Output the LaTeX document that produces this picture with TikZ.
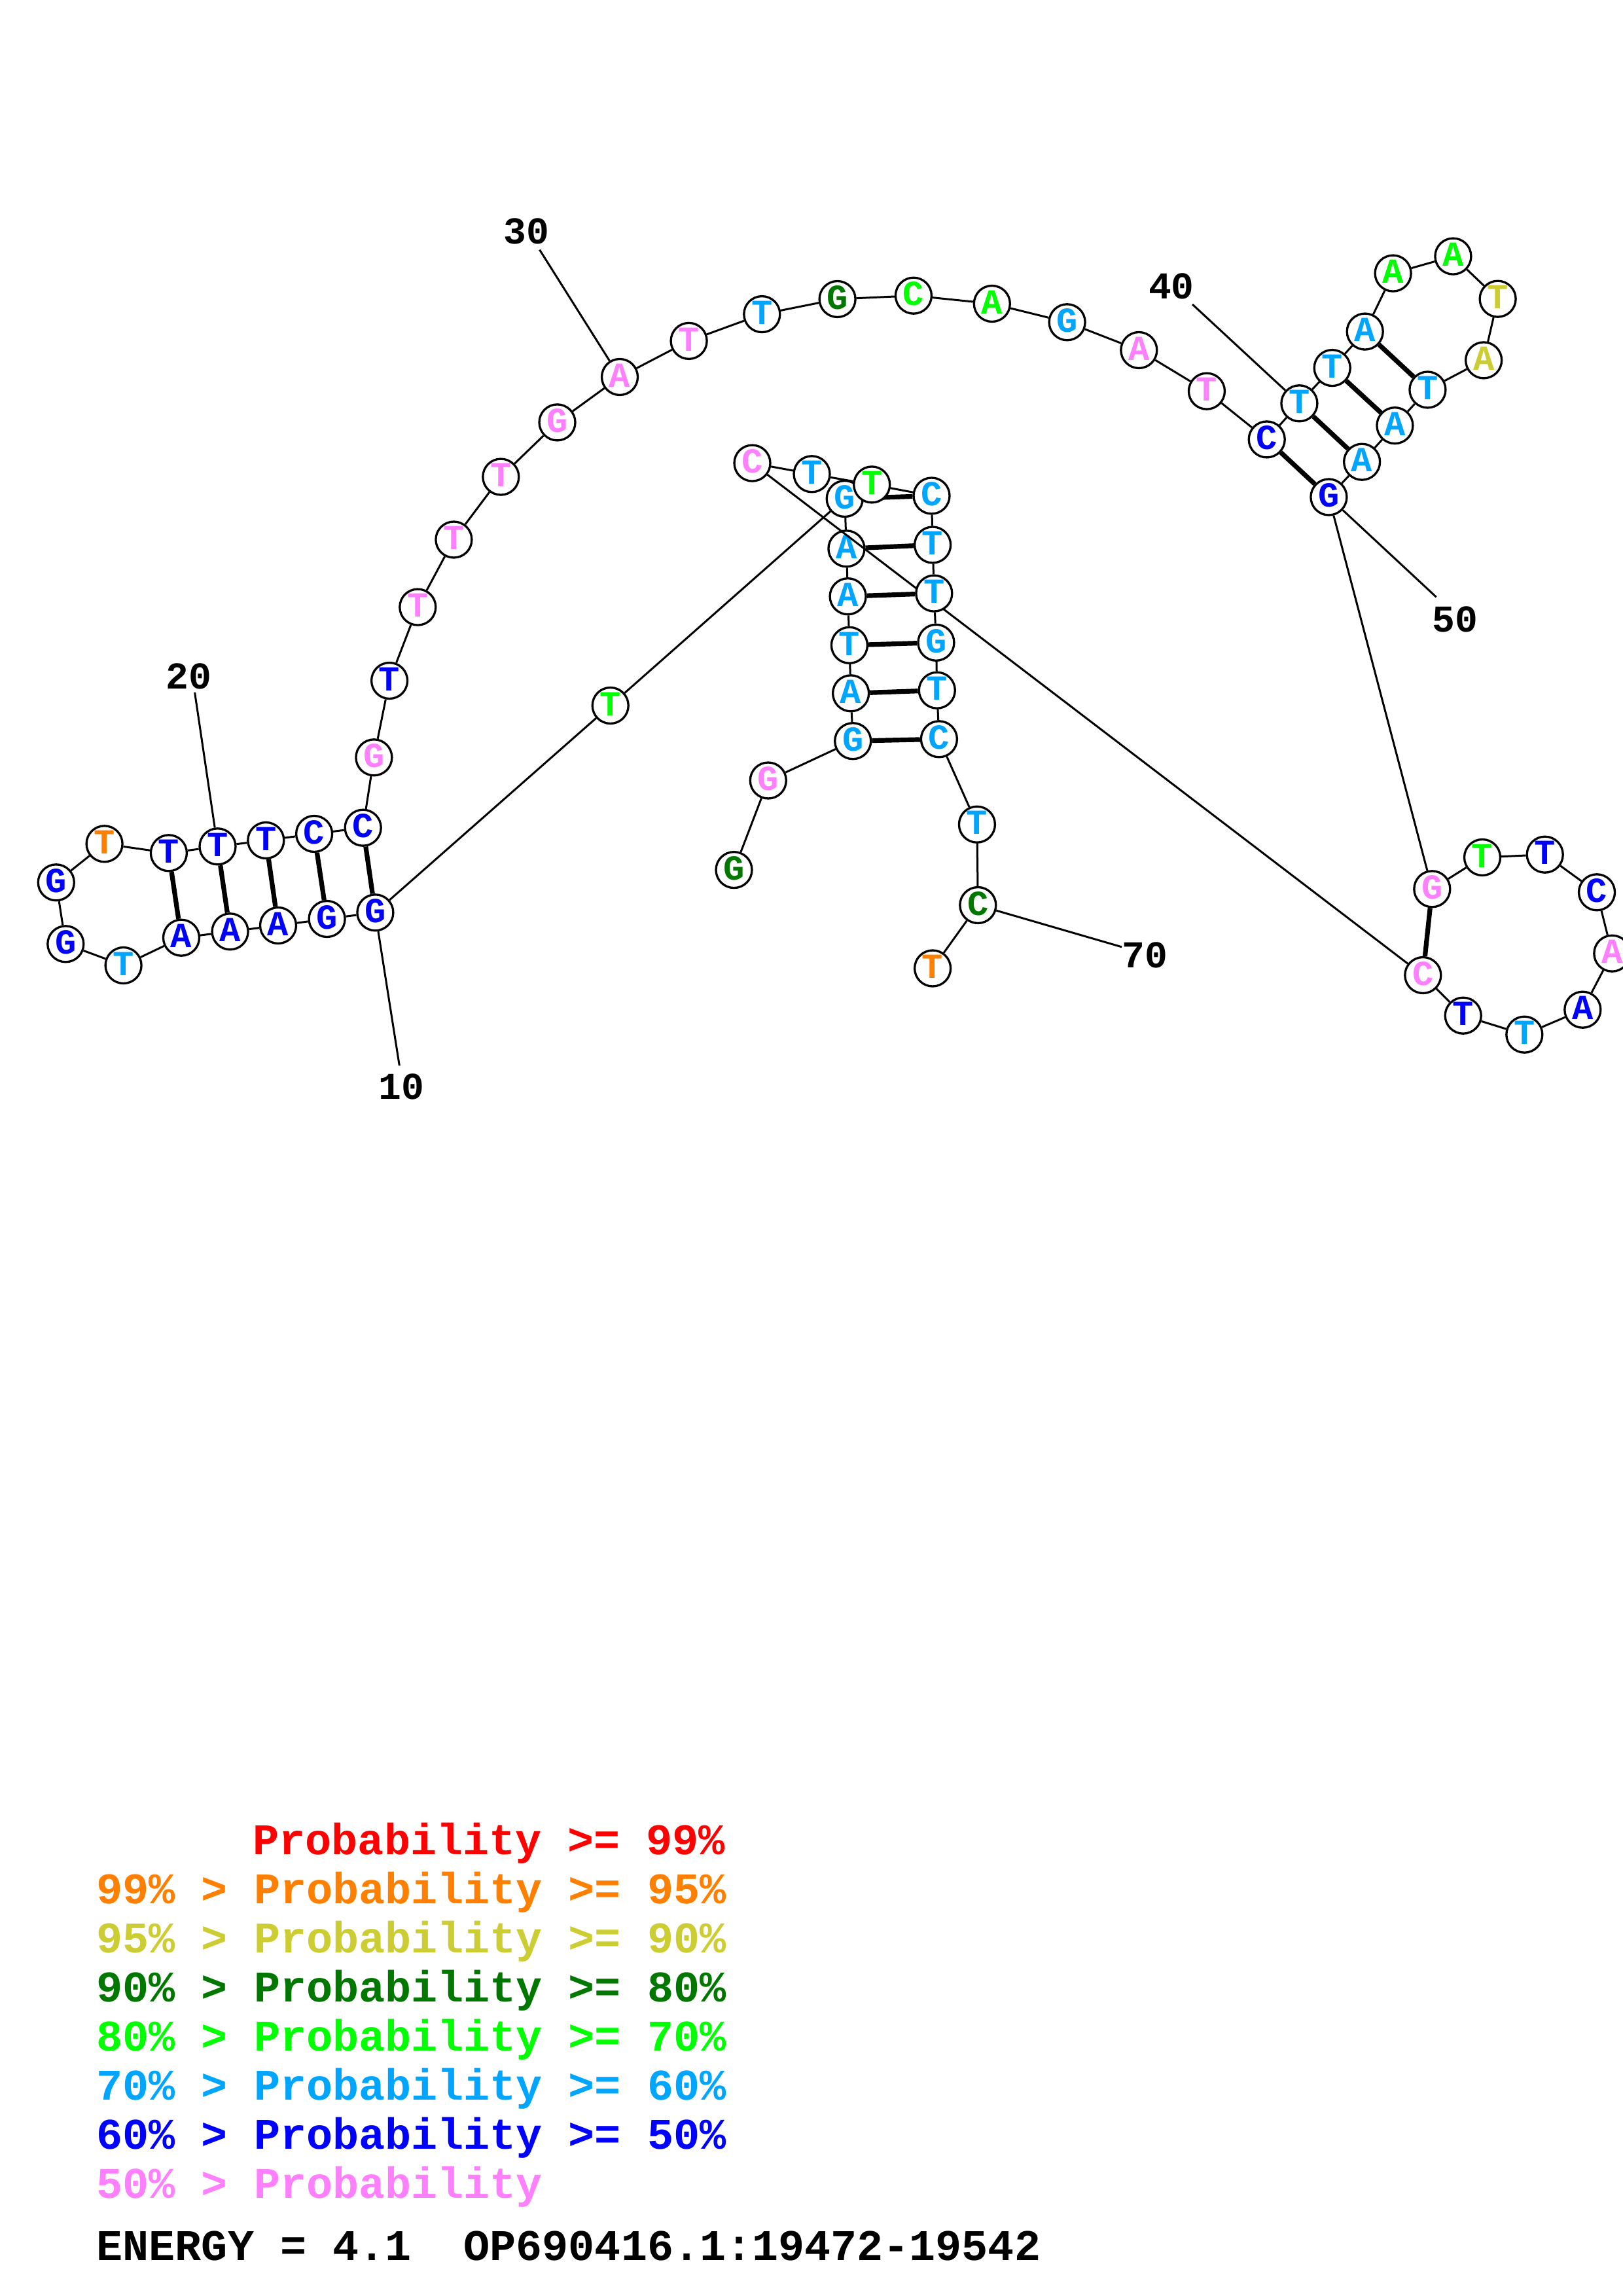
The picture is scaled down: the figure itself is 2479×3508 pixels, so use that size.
\documentclass[tikz,border=0pt]{standalone}
\usepackage{fontspec}
\newfontfamily\cour{Liberation Mono}
\definecolor{cRed}{RGB}{255,0,0}
\definecolor{cOrange}{RGB}{255,128,0}
\definecolor{cYellow}{RGB}{204,204,51}
\definecolor{cDkGreen}{RGB}{0,120,0}
\definecolor{cGreen}{RGB}{0,255,0}
\definecolor{cLtBlue}{RGB}{0,165,255}
\definecolor{cBlue}{RGB}{0,0,255}
\definecolor{cPink}{RGB}{255,128,255}
\pgfdeclarelayer{paper}
\pgfdeclarelayer{edges}
\pgfdeclarelayer{lownodes}
\pgfdeclarelayer{crossline}
\pgfsetlayers{paper,edges,lownodes,crossline,main}
\tikzset{
  nt/.style={circle, draw=black, line width=0.33mm, fill=white, minimum size=5.5mm,
    inner sep=0pt, font=\cour\bfseries\fontsize{15.3}{16}\selectfont,
    text height=3.05mm, text depth=0pt},
  ntDG/.style={nt, text=cDkGreen},
  ntP/.style={nt, text=cPink},
  ntLB/.style={nt, text=cLtBlue},
  ntB/.style={nt, text=cBlue},
  ntGr/.style={nt, text=cGreen},
  ntO/.style={nt, text=cOrange},
  ntY/.style={nt, text=cYellow},
  bb/.style={draw=black, line width=0.3mm},
  bp/.style={draw=black, line width=0.72mm},
  lbl/.style={inner sep=0pt, font=\cour\bfseries\fontsize{16.5}{17}\selectfont},
  legendrow/.style={anchor=base west, inner sep=0pt, font=\cour\bfseries\fontsize{19}{20}\selectfont}
}
\begin{document}
\begin{tikzpicture}[x=0.1mm, y=-0.1mm]
\begin{pgfonlayer}{paper}
  \fill[white] (0,0) rectangle (2479,3508);
\end{pgfonlayer}
\useasboundingbox (0,0) rectangle (2479,3508);

\begin{pgfonlayer}{lownodes}
\node[ntDG] (n1) at (1121.5,1329.1) {G};
\node[ntP]  (n2) at (1173.8,1192.5) {G};
\node[ntLB] (n3) at (1303.2,1132.2) {G};
\node[ntLB] (n4) at (1300.1,1059.3) {A};
\node[ntLB] (n5) at (1297.9,985.8) {T};
\node[ntLB] (n6) at (1295.6,911.2) {A};
\node[ntLB] (n7) at (1293.4,838.3) {A};
\node[ntLB] (n8) at (1290.7,762.0) {G};
\node[ntGr] (n9) at (932.7,1078.0) {T};
\node[ntB]  (n10) at (573.4,1394.3) {G};
\node[ntB]  (n11) at (499.6,1404.0) {G};
\node[ntB]  (n12) at (425.0,1414.0) {A};
\node[ntB]  (n13) at (351.6,1423.3) {A};
\node[ntB]  (n14) at (277.0,1432.7) {A};
\node[ntLB] (n15) at (188.6,1475.0) {T};
\node[ntB]  (n16) at (100.3,1442.3) {G};
\node[ntB]  (n17) at (85.8,1348.3) {G};
\node[ntO]  (n18) at (159.6,1289.3) {T};
\node[ntB]  (n19) at (257.9,1303.3) {T};
\node[ntB]  (n20) at (332.5,1293.3) {T};
\node[ntB]  (n21) at (406.3,1284.0) {T};
\node[ntB]  (n22) at (480.1,1274.0) {C};
\node[ntB]  (n23) at (554.7,1264.7) {C};
\node[ntP]  (n24) at (571.4,1157.3) {G};
\node[ntB]  (n25) at (595.1,1040.0) {T};
\node[ntP]  (n26) at (638.3,927.6) {T};
\node[ntP]  (n27) at (693.4,824.5) {T};
\node[ntP]  (n28) at (765.3,728.6) {T};
\node[ntP]  (n29) at (851.5,645.4) {G};
\node[ntP]  (n30) at (947.0,576.0) {A};
\node[ntP]  (n31) at (1052.6,520.9) {T};
\node[ntLB] (n32) at (1164.3,480.1) {T};
\node[ntDG] (n33) at (1279.6,457.0) {G};
\node[ntGr] (n34) at (1395.9,451.7) {C};
\node[ntGr] (n35) at (1515.8,464.0) {A};
\node[ntLB] (n36) at (1630.6,492.3) {G};
\node[ntP]  (n37) at (1740.3,535.0) {A};
\node[ntP]  (n38) at (1843.9,597.7) {T};
\node[ntB]  (n39) at (1935.7,671.4) {C};
\node[ntLB] (n40) at (1985.4,616.3) {T};
\node[ntLB] (n41) at (2035.7,562.1) {T};
\node[ntLB] (n42) at (2085.7,506.6) {A};
\node[ntGr] (n43) at (2128.6,417.6) {A};
\node[ntGr] (n44) at (2220.4,391.6) {A};
\node[ntY]  (n45) at (2288.6,456.7) {T};
\node[ntY]  (n46) at (2267.1,550.4) {A};
\node[ntLB] (n47) at (2181.4,595.5) {T};
\node[ntLB] (n48) at (2131.4,650.2) {A};
\node[ntLB] (n49) at (2081.1,705.7) {A};
\node[ntB]  (n50) at (2030.4,759.5) {G};
\node[ntP]  (n51) at (2188.3,1358.3) {G};
\node[ntGr] (n52) at (2265.0,1310.0) {T};
\node[ntB]  (n53) at (2360.7,1305.7) {T};
\node[ntB]  (n54) at (2440.0,1363.3) {C};
\node[ntP]  (n55) at (2463.3,1456.7) {A};
\node[ntB]  (n56) at (2418.3,1542.7) {A};
\node[ntLB] (n57) at (2329.3,1580.7) {T};
\node[ntB]  (n58) at (2235.7,1551.7) {T};
\node[ntP]  (n59) at (2174.3,1490.0) {C};
\end{pgfonlayer}

\node[ntP]  (n60) at (1149.5,707.6) {C};
\node[ntLB] (n61) at (1240.5,724.3) {T};
\node[ntGr] (n62) at (1332.2,740.4) {T};
\node[ntLB] (n63) at (1423.5,757.5) {C};
\node[ntLB] (n64) at (1425.1,832.5) {T};
\node[ntLB] (n65) at (1427.3,906.6) {T};
\node[ntLB] (n66) at (1430.4,981.8) {G};
\node[ntLB] (n67) at (1431.8,1054.7) {T};
\node[ntLB] (n68) at (1434.9,1129.3) {C};
\node[ntLB] (n69) at (1492.9,1259.7) {T};
\node[ntDG] (n70) at (1494.3,1383.0) {C};
\node[ntO]  (n71) at (1425.1,1479.5) {T};

% position labels
\node[lbl] (l10) at (613.6,1660) {10};
\node[lbl] (l20) at (288.6,1033.6) {20};
\node[lbl] (l30) at (804.6,353.6) {30};
\node[lbl] (l40) at (1789.8,437.3) {40};
\node[lbl] (l50) at (2223.2,946) {50};
\node[lbl] (l70) at (1749.6,1459.4) {70};
\coordinate (t10) at (610.3,1628);
\coordinate (t20) at (297.6,1058);
\coordinate (t30) at (824.5,381.6);
\coordinate (t40) at (1822,465);
\coordinate (t50) at (2194.6,912.2);
\coordinate (t70) at (1714,1446.8);

\begin{pgfonlayer}{edges}
  \foreach \i in {1,...,58,60,61,...,70} {
    \pgfmathtruncatemacro\j{\i+1}
    \draw[bb] (n\i) -- (n\j);
  }
  \foreach \a/\b in {3/68,4/67,5/66,6/65,7/64,8/63,10/23,11/22,12/21,13/20,14/19,39/50,40/49,41/48,42/47,51/59} {
    \draw[bp] (n\a) -- (n\b);
  }
  \foreach \k in {10,20,30,40,50,70} {
    \draw[bb] (n\k) -- (t\k);
  }
\end{pgfonlayer}
\begin{pgfonlayer}{crossline}
  \draw[bb] (n59) -- (n60);
\end{pgfonlayer}

% legend
\node[legendrow, text=cRed]     (r1) at (386,2833) {Probability >= 99\%};
\node[legendrow, text=cOrange]  (r2) at (147,2908) {99\% > Probability >= 95\%};
\node[legendrow, text=cYellow]  (r3) at (147,2983) {95\% > Probability >= 90\%};
\node[legendrow, text=cDkGreen] (r4) at (147,3058) {90\% > Probability >= 80\%};
\node[legendrow, text=cGreen]   (r5) at (147,3133) {80\% > Probability >= 70\%};
\node[legendrow, text=cLtBlue]  (r6) at (147,3208) {70\% > Probability >= 60\%};
\node[legendrow, text=cBlue]    (r7) at (147,3283) {60\% > Probability >= 50\%};
\node[legendrow, text=cPink]    (r8) at (147,3358) {50\% > Probability};
\node[legendrow, text=black]    (r9) at (147,3453) {ENERGY = 4.1\ \ OP690416.1:19472-19542};
\end{tikzpicture}
\end{document}
